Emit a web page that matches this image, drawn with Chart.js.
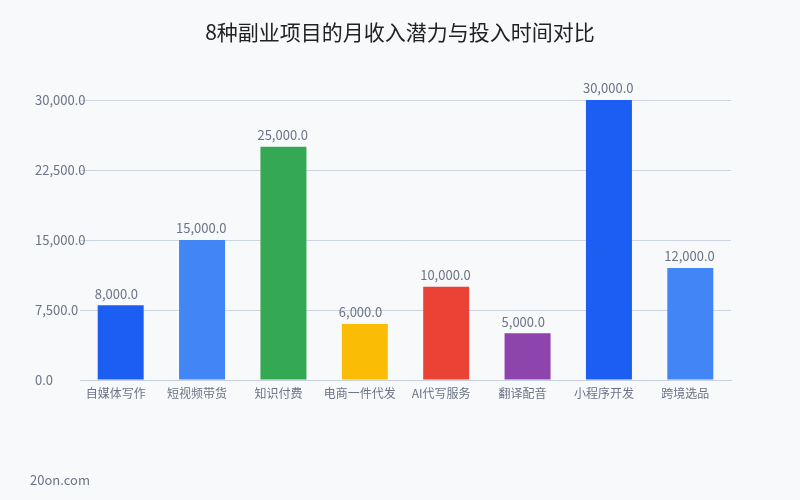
<!DOCTYPE html>
<html>
<head>
<meta charset="utf-8">
<script src="https://cdn.jsdelivr.net/npm/chart.js@4"></script>
<style>
html,body{margin:0;padding:0;background:#f8f9fb;}
#wrap{width:800px;height:500px;position:relative;}
</style>
</head>
<body>
<div id="wrap"><canvas id="c" width="800" height="500"></canvas></div>
<script>
const categories = ["自媒体写作","短视频带货","知识付费","电商一件代发","AI代写服务","翻译配音","小程序开发","跨境选品"];
const incomeValues = [8000,15000,25000,6000,10000,5000,30000,12000];
const barColors = ["#1c5ef2","#4285f4","#34a853","#fbbc05","#ea4335","#8e44ad","#1c5ef2","#4285f4"];
const yTicks = [0,7500,15000,22500,30000];
const titleText = "8种副业项目的月收入潜力与投入时间对比";
const footerText = "20on.com";

const FONT = "'Noto Sans CJK SC','Noto Sans',sans-serif";
const fmt = v => v.toLocaleString('en-US',{minimumFractionDigits:1,maximumFractionDigits:1});

const extras = {
  id:'extras',
  beforeDraw(chart){
    const ctx = chart.ctx;
    ctx.save();
    ctx.fillStyle = '#f8f9fb';
    ctx.fillRect(0,0,chart.width,chart.height);
    ctx.restore();
  },
  afterDraw(chart){
    const ctx = chart.ctx;
    ctx.save();
    ctx.fillStyle = '#222222';
    ctx.font = "21px " + FONT;
    ctx.textAlign = 'center';
    ctx.textBaseline = 'middle';
    ctx.fillText(titleText, 400, 32);
    ctx.fillStyle = '#6b7385';
    ctx.font = "13px " + FONT;
    ctx.textAlign = 'left';
    ctx.fillText(footerText, 30, 480);
    const meta = chart.getDatasetMeta(0);
    ctx.font = "13px " + FONT;
    ctx.textAlign = 'left';
    ctx.textBaseline = 'bottom';
    ctx.fillStyle = '#6b7385';
    meta.data.forEach((el,i)=>{
      ctx.fillText(fmt(incomeValues[i]), el.x - 26, el.y - 5);
    });
    ctx.restore();
  }
};

new Chart(document.getElementById('c'), {
  type:'bar',
  data:{
    labels:categories,
    datasets:[{
      data:incomeValues,
      backgroundColor:barColors,
      barPercentage:0.565,
      categoryPercentage:1.0,
      borderWidth:0
    }]
  },
  options:{
    responsive:false,
    animation:false,
    layout:{padding:{left:35,right:69,top:100,bottom:90}},
    plugins:{legend:{display:false},tooltip:{enabled:false},title:{display:false}},
    scales:{
      x:{
        grid:{display:false,drawTicks:false},
        border:{display:true,color:'#c8d0e0',width:1},
        ticks:{color:'#6b7385',font:{family:FONT,size:12},padding:6,maxRotation:0,autoSkip:false,labelOffset:-5},
        afterFit(s){s.height=30;}
      },
      y:{
        min:0,max:30000,
        afterBuildTicks(s){s.ticks = yTicks.map(v=>({value:v}));},
        grid:{color:'#cdd4e2',drawTicks:false,lineWidth:1},
        border:{display:false},
        ticks:{color:'#6b7385',font:{family:FONT,size:13},crossAlign:'far',padding:0,
          callback:v=>fmt(v)},
        afterFit(s){s.width=45; s._computeLabelArea = function(){ return undefined; };}
      }
    }
  },
  plugins:[extras]
});
</script>
</body>
</html>
